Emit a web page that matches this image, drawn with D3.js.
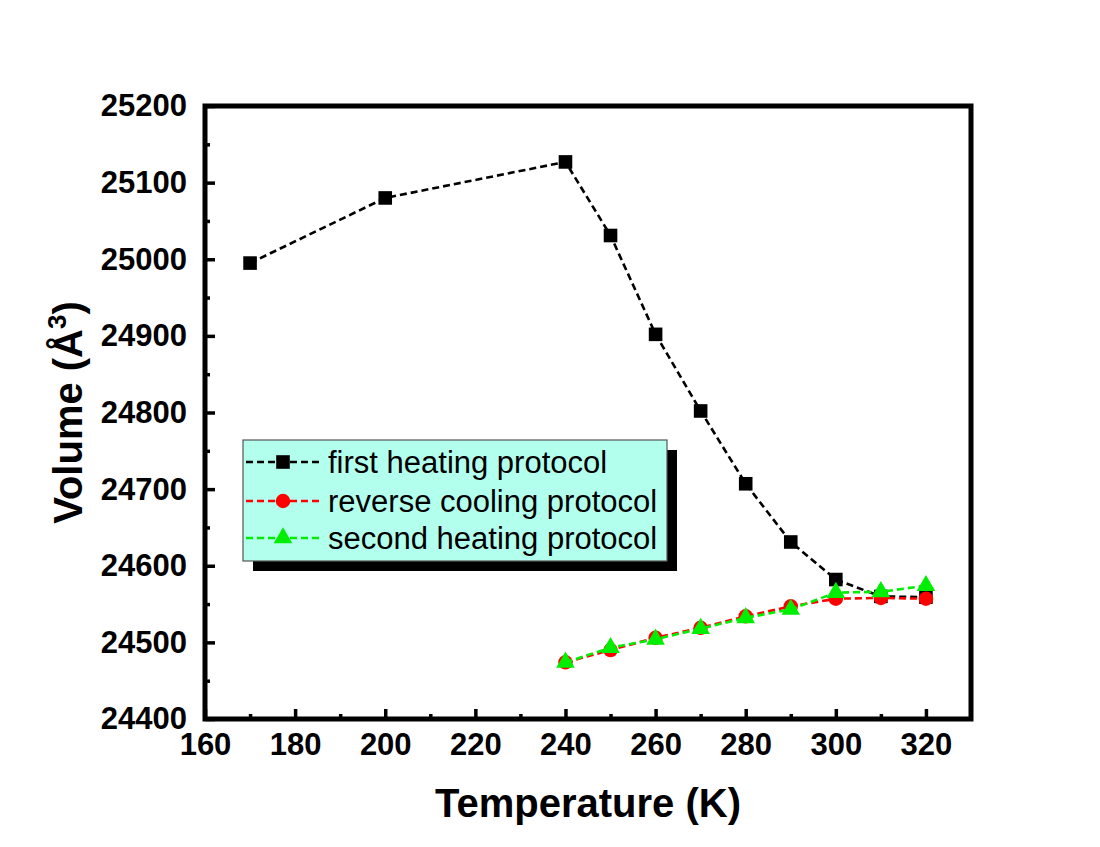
<!DOCTYPE html>
<html>
<head>
<meta charset="utf-8">
<script src="https://cdn.jsdelivr.net/npm/d3@7"></script>
<style>
  html, body { margin: 0; padding: 0; background: #fff; }
  svg { display: block; font-family: "Liberation Sans", Arial, sans-serif; }
</style>
</head>
<body>
<svg id="chart" width="1100" height="847"></svg>
<script>
// ---- data ----
const tempsFirst = [170, 200, 240, 250, 260, 270, 280, 290, 300, 310, 320];
const volFirst   = [24995, 25080, 25127, 25031, 24902, 24802, 24707, 24631, 24582, 24560, 24559];
const tempsCool  = [240, 250, 260, 270, 280, 290, 300, 310, 320];
const volCool    = [24474, 24490, 24506, 24519, 24534, 24547, 24557, 24558, 24557];
const tempsSecond = [240, 250, 260, 270, 280, 290, 300, 310, 320];
const volSecond   = [24474, 24493, 24504, 24518, 24532, 24543, 24565, 24566, 24574];
const seriesNames = ["first heating protocol", "reverse cooling protocol", "second heating protocol"];
const xMajorTicks = [160, 180, 200, 220, 240, 260, 280, 300, 320];
const xMinorTicks = [170, 190, 210, 230, 250, 270, 290, 310];
const yMajorTicks = [24400, 24500, 24600, 24700, 24800, 24900, 25000, 25100, 25200];
const yMinorTicks = [24450, 24550, 24650, 24750, 24850, 24950, 25050, 25150];

const svg = d3.select("#chart");
const L = 205, R = 971, T = 106, B = 719;

const x = d3.scaleLinear().domain([160, 330]).range([L, R]);
const y = d3.scaleLinear().domain([24400, 25200]).range([B, T]);

// ---- axes ----
const gx = svg.append("g").attr("transform", `translate(0,${B})`)
  .call(d3.axisBottom(x).tickValues(xMajorTicks).tickSize(-10).tickPadding(14).tickFormat(d3.format("d")));
const gxm = svg.append("g").attr("transform", `translate(0,${B})`)
  .call(d3.axisBottom(x).tickValues(xMinorTicks).tickSize(-5).tickFormat(""));
const gy = svg.append("g").attr("transform", `translate(${L},0)`)
  .call(d3.axisLeft(y).tickValues(yMajorTicks).tickSize(-10).tickPadding(18).tickFormat(d3.format("d")));
const gym = svg.append("g").attr("transform", `translate(${L},0)`)
  .call(d3.axisLeft(y).tickValues(yMinorTicks).tickSize(-5).tickFormat(""));

[gx, gxm, gy, gym].forEach(g => {
  g.select(".domain").remove();
  g.selectAll(".tick line").attr("stroke", "#000").attr("stroke-width", 3.5);
  g.selectAll(".tick text").attr("fill", "#000").attr("font-size", 31).attr("font-weight", "bold")
    .attr("font-family", "'Liberation Sans', Arial, sans-serif");
});

// frame
svg.append("rect").attr("x", L).attr("y", T).attr("width", R - L).attr("height", B - T)
  .attr("fill", "none").attr("stroke", "#000").attr("stroke-width", 5);

// axis titles
svg.append("text").attr("x", (L + R) / 2).attr("y", 817).attr("text-anchor", "middle")
  .attr("font-size", 40).attr("font-weight", "bold").text("Temperature (K)");

const yt = svg.append("text").attr("transform", `translate(82,${(T + B) / 2}) rotate(-90)`)
  .attr("text-anchor", "middle").attr("font-size", 40).attr("font-weight", "bold");
yt.append("tspan").text("Volume (Å");
yt.append("tspan").attr("font-size", 26).attr("dy", -16).text("3");
yt.append("tspan").attr("dy", 16).text(")");

// ---- series ----
const line = d3.line().x(d => x(d[0])).y(d => y(d[1]));
const series = [
  { t: tempsFirst, v: volFirst, color: "#000000", shape: "square" },
  { t: tempsCool, v: volCool, color: "#ff0000", shape: "circle" },
  { t: tempsSecond, v: volSecond, color: "#00ee00", shape: "triangle" }
];
const sym = {
  square: d3.symbol().type(d3.symbolSquare).size(185),
  circle: d3.symbol().type(d3.symbolCircle).size(165),
  triangle: d3.symbol().type(d3.symbolTriangle).size(150)
};

series.forEach(s => {
  const pts = s.t.map((t, i) => [t, s.v[i]]);
  svg.append("path").attr("d", line(pts)).attr("fill", "none")
    .attr("stroke", s.color).attr("stroke-width", 2.6).attr("stroke-dasharray", "7,4");
  svg.selectAll(null).data(pts).enter().append("path")
    .attr("d", sym[s.shape]).attr("transform", d => `translate(${x(d[0])},${y(d[1])})`)
    .attr("fill", s.color);
});

// ---- legend ----
const lg = svg.append("g");
lg.append("rect").attr("x", 253).attr("y", 450).attr("width", 424).attr("height", 121).attr("fill", "#000");
lg.append("rect").attr("x", 243).attr("y", 440).attr("width", 424).attr("height", 121)
  .attr("fill", "#b3ffee").attr("stroke", "#555").attr("stroke-width", 1.2);
const rowY = [462, 501, 538];
series.forEach((s, i) => {
  lg.append("line").attr("x1", 246).attr("x2", 322).attr("y1", rowY[i]).attr("y2", rowY[i])
    .attr("stroke", s.color).attr("stroke-width", 2.6).attr("stroke-dasharray", "7,4");
  lg.append("path").attr("d", sym[s.shape]).attr("transform", `translate(283,${rowY[i]})`).attr("fill", s.color);
  lg.append("text").attr("x", 328).attr("y", rowY[i] + 11).attr("font-size", 31).attr("fill", "#000")
    .text(seriesNames[i]);
});
</script>
</body>
</html>
